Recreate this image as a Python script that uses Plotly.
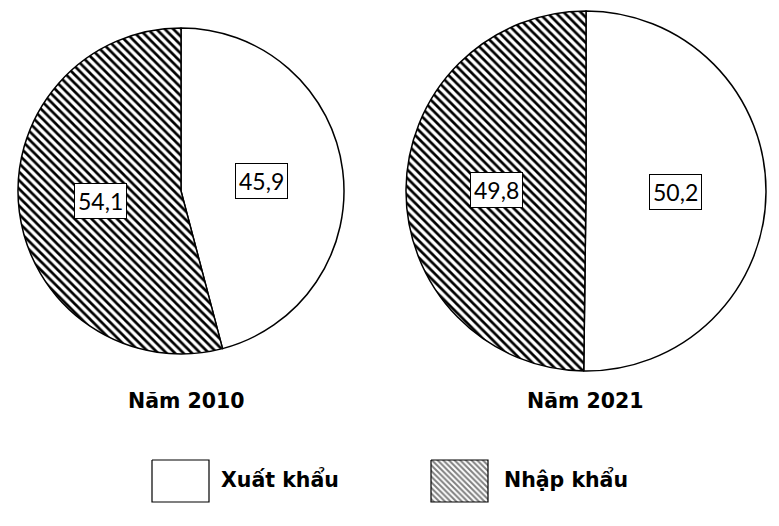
import math
import plotly.graph_objects as go

# ---- data ----
categories = ["Xuất khẩu", "Nhập khẩu"]
values_2010 = [45.9, 54.1]
values_2021 = [50.2, 49.8]
years = ["Năm 2010", "Năm 2021"]
value_labels_2010 = ["45,9", "54,1"]
value_labels_2021 = ["50,2", "49,8"]

PAGE_W, PAGE_H = 779, 526
OFF = 8  # default page body margin
W, H = PAGE_W - 2 * OFF, PAGE_H - 2 * OFF
NUM_FONT = "Lato"
TXT_FONT = "DejaVu Sans"
patterns = ["", "\\"]


def px(x):
    return x - OFF


def fx(x):
    return px(x) / W


def fy(y):
    return 1 - px(y) / H


fig = go.Figure()

# pie geometry in page pixels (center x, center y, radius, title x)
pies = [
    (values_2010, value_labels_2010, years[0], 181, 191, 163, 186),
    (values_2021, value_labels_2021, years[1], 586, 191, 180, 585),
]

for vals, labs, year, cx, cy, r, tx in pies:
    fig.add_trace(go.Pie(
        labels=categories, values=vals, sort=False, direction="clockwise",
        rotation=0, textinfo="none", hoverinfo="label+value",
        showlegend=False,
        marker=dict(colors=["white", "white"],
                    line=dict(color="black", width=1.5),
                    pattern=dict(shape=patterns, fgcolor="black", bgcolor="white",
                                 size=6, solidity=0.45)),
        domain=dict(x=[fx(cx - r), fx(cx + r)],
                    y=[fy(cy + r), fy(cy - r)]),
    ))
    # value label boxes at half radius on each slice's mid-angle
    total = sum(vals)
    cum = 0
    for v, t in zip(vals, labs):
        mid = (cum + v / 2) / total * 2 * math.pi
        cum += v
        x = cx + 0.5 * r * math.sin(mid)
        y = cy - 0.5 * r * math.cos(mid)
        fig.add_annotation(x=fx(x), y=fy(y), xref="paper", yref="paper",
                           xanchor="center", yanchor="middle",
                           text=t, showarrow=False,
                           font=dict(family=NUM_FONT, size=23, color="black"),
                           bgcolor="white", bordercolor="black", borderwidth=1,
                           borderpad=3)
    fig.add_annotation(x=fx(tx), y=fy(401), xref="paper", yref="paper",
                       xanchor="center", yanchor="middle",
                       text="<b>%s</b>" % year, showarrow=False,
                       font=dict(family=TXT_FONT, size=20.5, color="black"))

# legend boxes (drawn on a pixel-mapped hidden axis)
legend_items = [(categories[0], patterns[0], 152, 219), (categories[1], patterns[1], 431, 502)]
for name, pat, lx, tx in legend_items:
    x0, x1, y0, y1 = px(lx), px(lx + 57), px(460), px(502)
    fig.add_trace(go.Scatter(
        x=[x0, x1, x1, x0, x0], y=[y0, y0, y1, y1, y0],
        mode="lines", fill="toself", fillcolor="white",
        fillpattern=dict(shape=pat, fgcolor="black", bgcolor="white", size=4, solidity=0.5),
        line=dict(color="black", width=1.2), showlegend=False, hoverinfo="skip",
    ))
    fig.add_annotation(x=px(tx), y=px(479), xref="x", yref="y",
                       xanchor="left", yanchor="middle",
                       text="<b>%s</b>" % name, showarrow=False,
                       font=dict(family=TXT_FONT, size=20.5, color="black"))

fig.update_layout(
    width=W, height=H, margin=dict(l=0, r=0, t=0, b=0),
    paper_bgcolor="white", plot_bgcolor="rgba(0,0,0,0)",
    xaxis=dict(range=[0, W], domain=[0, 1], visible=False, fixedrange=True),
    yaxis=dict(range=[H, 0], domain=[0, 1], visible=False, fixedrange=True),
)

fig.write_html("out.html")
